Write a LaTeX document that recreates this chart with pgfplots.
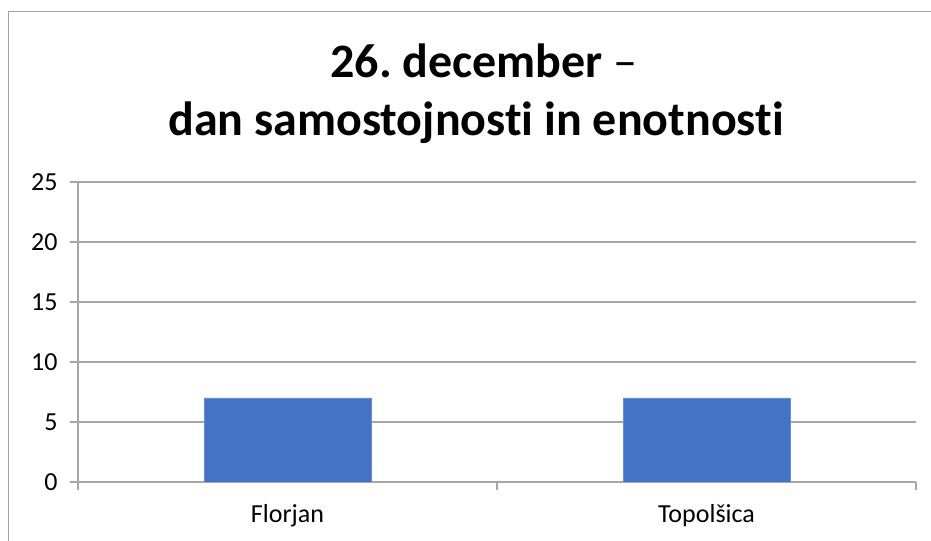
\documentclass[border=0pt]{standalone}
\usepackage{fontspec}
\setmainfont{Carlito}[Ligatures=NoCommon]
\frenchspacing
\usepackage{pgfplots}
\pgfplotsset{compat=1.18}
\definecolor{barblue}{HTML}{4472C4}
\definecolor{gridgray}{HTML}{A6A6A6}
\definecolor{framegray}{HTML}{A0A0A0}
\begin{document}
\begin{tikzpicture}[x=1bp,y=1bp]
\useasboundingbox (0,0) rectangle (931,541);
% chart frame (cropped on the right and bottom)
\draw[framegray, line width=1.3bp] (8.5,-20) -- (8.5,529.5) -- (960,529.5);
% title
\node[anchor=base, font=\fontsize{48bp}{58bp}\selectfont\bfseries] at (484,463)
  {26. december {\mdseries –}};
\node[anchor=base, font=\fontsize{48bp}{58bp}\selectfont\bfseries] at (476,405)
  {dan samostojnosti in enotnosti};
\begin{axis}[
  at={(78bp,59bp)}, anchor=south west,
  scale only axis, width=838bp, height=300bp,
  xmin=-0.5, xmax=1.5, ymin=0, ymax=25,
  ytick={0,5,...,25},
  xtick={-0.5,0.5,1.5}, xticklabels={},
  extra x ticks={0,1},
  extra x tick labels={Florjan,Topolšica},
  extra x tick style={major tick length=0pt},
  axis x line*=bottom, axis y line*=left,
  axis line style={gridgray, line width=1.2bp},
  tick style={gridgray, line width=1.2bp},
  major tick length=8bp, tick align=outside,
  ymajorgrids, grid style={gridgray, line width=1.2bp},
  /pgf/number format/assume math mode=true,
  tick label style={font=\fontsize{26bp}{30bp}\selectfont, black},
  yticklabel style={anchor=east, xshift=-9bp},
  xticklabel style={anchor=base, yshift=-41bp},
  ]
  \addplot[ybar, bar width=167bp, fill=barblue, draw=barblue!80!white]
    coordinates {(0,7) (1,7)};
\end{axis}
\end{tikzpicture}
\end{document}
